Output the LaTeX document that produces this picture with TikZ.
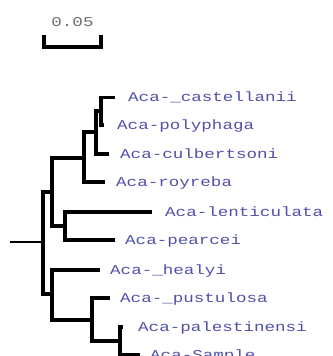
\documentclass[tikz,border=0pt]{standalone}
\usepackage{fontspec}
\newfontfamily\labfont[FakeStretch=1.3]{Liberation Mono}
\definecolor{labblue}{RGB}{80,80,170}
\definecolor{scalegray}{RGB}{110,110,110}
\begin{document}
\begin{tikzpicture}[x=1pt,y=-1pt,
  branch/.style={line width=3.5pt,line join=miter,line cap=butt},
  rootline/.style={line width=2pt},
  lab/.style={anchor=base west,inner sep=0pt,text=labblue,font=\labfont\fontsize{13.5}{14}\selectfont},
  scalelab/.style={anchor=base,inner sep=0pt,text=scalegray,font=\labfont\fontsize{13.5}{14}\selectfont}]
\useasboundingbox (0,0) rectangle (332,356);
% scale bar
\coordinate (sbl) at (44,35);
\coordinate (sblb) at (44,47);
\coordinate (sbrb) at (101,47);
\coordinate (sbr) at (101,35);
\draw[branch] (sbl) -- (sblb) -- (sbrb) -- (sbr);
\node[scalelab] (scale) at (72.5,27) {0.05};
% tips
\coordinate (tCast) at (115,97.5);
\coordinate (tPoly) at (104,125);
\coordinate (tCulb) at (109,154);
\coordinate (tRoy) at (105,182);
\coordinate (tLen) at (152,212);
\coordinate (tPear) at (115,240);
\coordinate (tHea) at (100,270);
\coordinate (tPus) at (110,298);
\coordinate (tPal) at (123,327);
\coordinate (tSam) at (140,355);
% internal nodes
\coordinate (nCP) at (101,111);
\coordinate (nCPC) at (96,132);
\coordinate (nA) at (84,158);
\coordinate (nB) at (65,226);
\coordinate (nAB) at (52,192);
\coordinate (nPS) at (120,341);
\coordinate (nPPS) at (92,320);
\coordinate (nC) at (52,294);
\coordinate (nR) at (43,242);
\coordinate (rootend) at (10,242);
% branches
\draw[branch] (nCP) |- (tCast);
\draw[branch] (nCP) |- (tPoly);
\draw[branch] (nCPC) |- (nCP);
\draw[branch] (nCPC) |- (tCulb);
\draw[branch] (nA) |- (nCPC);
\draw[branch] (nA) |- (tRoy);
\draw[branch] (nB) |- (tLen);
\draw[branch] (nB) |- (tPear);
\draw[branch] (nAB) |- (nA);
\draw[branch] (nAB) |- (nB);
\draw[branch] (nPS) |- (tPal);
\draw[branch] (nPS) |- (tSam);
\draw[branch] (nPPS) |- (tPus);
\draw[branch] (nPPS) |- (nPS);
\draw[branch] (nC) |- (tHea);
\draw[branch] (nC) |- (nPPS);
\draw[branch] (nR) |- (nAB);
\draw[branch] (nR) |- (nC);
\draw[rootline] (rootend) -- (nR);
% labels
\node[lab] (lCast) at (128,101.5) {Aca-\_castellanii};
\node[lab] (lPoly) at (117,129) {Aca-polyphaga};
\node[lab] (lCulb) at (120,158) {Aca-culbertsoni};
\node[lab] (lRoy) at (116,186) {Aca-royreba};
\node[lab] (lLen) at (165,216) {Aca-lenticulata};
\node[lab] (lPear) at (125,244) {Aca-pearcei};
\node[lab] (lHea) at (110,274) {Aca-\_healyi};
\node[lab] (lPus) at (120,302) {Aca-\_pustulosa};
\node[lab] (lPal) at (138,331) {Aca-palestinensi};
\node[lab] (lSam) at (150,359) {Aca-Sample};
\end{tikzpicture}
\end{document}
